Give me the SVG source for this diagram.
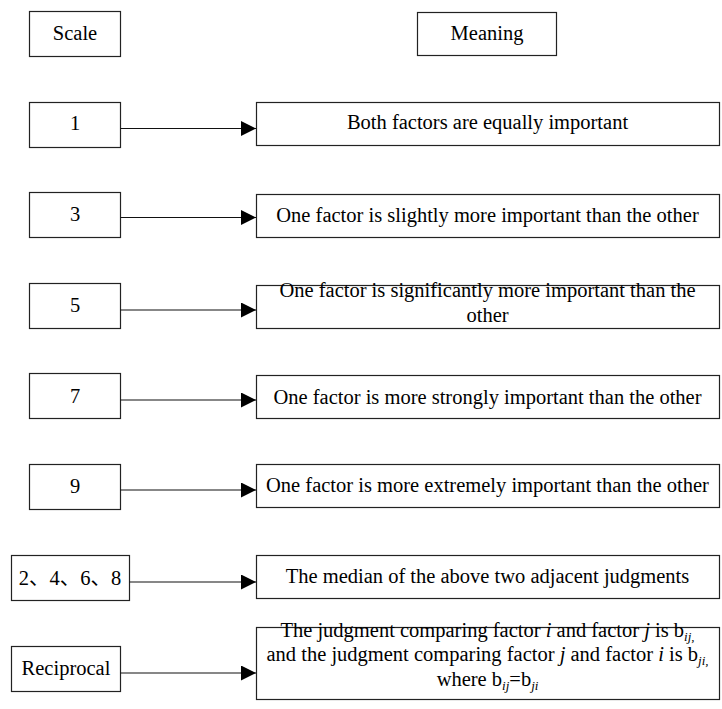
<svg xmlns="http://www.w3.org/2000/svg" width="722" height="709" viewBox="0 0 722 709">
<style>
  .box { fill: #ffffff; stroke: #222222; stroke-width: 1.2; }
  .t { font-family: "Liberation Serif", "Times New Roman", serif; font-size: 20.5px; fill: #000000; text-anchor: middle; }
  .cjk { font-family: "Liberation Serif", "Noto Sans CJK SC", serif; }
  .sub { font-size: 13px; font-style: italic; }
  .it { font-style: italic; }
  .conn { stroke: #111111; stroke-width: 1.2; fill: none; marker-end: url(#arrow); }
</style>
<defs>
  <marker id="arrow" markerUnits="userSpaceOnUse" markerWidth="16" markerHeight="16" refX="15" refY="7.5" orient="auto">
    <path d="M0,0 L15,7.5 L0,15 z" fill="#000000"/>
  </marker>
</defs>
<rect width="722" height="709" fill="#ffffff"/>

<g id="scale-header">
  <rect class="box" x="29.5" y="11.5" width="91" height="45"/>
  <text class="t" x="75" y="40">Scale</text>
</g>
<g id="meaning-header">
  <rect class="box" x="417.5" y="12.5" width="139" height="43"/>
  <text class="t" x="487" y="40">Meaning</text>
</g>

<g id="s1">
  <rect class="box" x="29.5" y="102.5" width="91" height="45"/>
  <text class="t" x="75" y="130">1</text>
</g>
<g id="m1">
  <rect class="box" x="256.5" y="102.5" width="463" height="43"/>
  <text class="t" x="487.5" y="129">Both factors are equally important</text>
</g>

<g id="s3">
  <rect class="box" x="29.5" y="192.5" width="91" height="45"/>
  <text class="t" x="75" y="221">3</text>
</g>
<g id="m3">
  <rect class="box" x="256.5" y="194.5" width="463" height="43"/>
  <text class="t" x="487.5" y="222">One factor is slightly more important than the other</text>
</g>

<g id="s5">
  <rect class="box" x="29.5" y="283.5" width="91" height="45"/>
  <text class="t" x="75" y="312">5</text>
</g>
<g id="m5">
  <rect class="box" x="256.5" y="285.5" width="463" height="43"/>
  <text class="t" x="487.5" y="297">One factor is significantly more important than the</text>
  <text class="t" x="487.5" y="322">other</text>
</g>

<g id="s7">
  <rect class="box" x="29.5" y="373.5" width="91" height="45"/>
  <text class="t" x="75" y="403">7</text>
</g>
<g id="m7">
  <rect class="box" x="256.5" y="375.5" width="463" height="43"/>
  <text class="t" x="487.5" y="404">One factor is more strongly important than the other</text>
</g>

<g id="s9">
  <rect class="box" x="29.5" y="464.5" width="91" height="45"/>
  <text class="t" x="75" y="493">9</text>
</g>
<g id="m9">
  <rect class="box" x="256.5" y="464.5" width="463" height="43"/>
  <text class="t" x="487.5" y="492">One factor is more extremely important than the other</text>
</g>

<g id="s2468">
  <rect class="box" x="11.5" y="555.5" width="118" height="45"/>
  <text class="t cjk" x="70" y="585">2、4、6、8</text>
</g>
<g id="m2468">
  <rect class="box" x="256.5" y="555.5" width="463" height="43"/>
  <text class="t" x="487.5" y="583">The median of the above two adjacent judgments</text>
</g>

<g id="srecip">
  <rect class="box" x="11.5" y="646.5" width="109" height="45"/>
  <text class="t" x="66" y="675">Reciprocal</text>
</g>
<g id="mrecip">
  <rect class="box" x="256.5" y="627.5" width="463" height="72"/>
  <text class="t" x="487.5" y="637">The judgment comparing factor <tspan class="it">i</tspan> and factor <tspan class="it">j</tspan> is b<tspan class="sub" dy="4">ij,</tspan></text>
  <text class="t" x="487.5" y="661">and the judgment comparing factor <tspan class="it">j</tspan> and factor <tspan class="it">i</tspan> is b<tspan class="sub" dy="4">ji,</tspan></text>
  <text class="t" x="487.5" y="686">where b<tspan class="sub" dy="4">ij</tspan><tspan dy="-4">=b</tspan><tspan class="sub" dy="4">ji</tspan></text>
</g>

<g id="connectors">
  <line class="conn" x1="120.5" y1="128.5" x2="256" y2="128.5"/>
  <line class="conn" x1="120.5" y1="217.5" x2="256" y2="217.5"/>
  <line class="conn" x1="120.5" y1="310" x2="256" y2="310"/>
  <line class="conn" x1="120.5" y1="400" x2="256" y2="400"/>
  <line class="conn" x1="120.5" y1="490" x2="256" y2="490"/>
  <line class="conn" x1="129.5" y1="582" x2="256" y2="582"/>
  <line class="conn" x1="120.5" y1="673" x2="256" y2="673"/>
</g>
</svg>
